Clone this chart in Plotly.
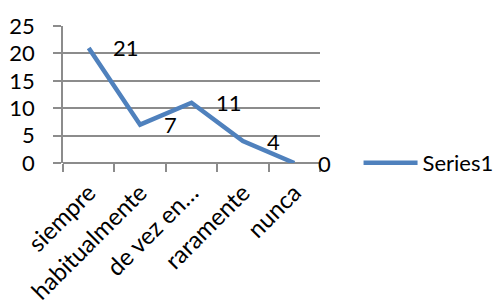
import plotly.graph_objects as go

categories = ["siempre", "habitualmente", "de vez en…", "raramente", "nunca"]
values = [21, 7, 11, 4, 0]
series_name = "Series1"
y_ticks = [0, 5, 10, 15, 20, 25]

FONT = "Lato"
FS = 22
GRID = "#8c8c8c"
BLUE = "#4F81BD"

fig = go.Figure()
fig.add_trace(go.Scatter(
    x=categories, y=values, mode="lines", name=series_name,
    line=dict(color=BLUE, width=4.5), cliponaxis=False,
))

for c, v in zip(categories, values):
    fig.add_annotation(x=c, y=v, text=str(v), showarrow=False,
                       xanchor="left", yanchor="middle", xshift=22,
                       font=dict(family=FONT, size=FS, color="black"))

fig.update_layout(
    width=498, height=306,
    margin=dict(l=63, r=178, t=26, b=143, autoexpand=False),
    paper_bgcolor="white", plot_bgcolor="white",
    font=dict(family=FONT, size=FS, color="black"),
    showlegend=True,
    legend=dict(x=1.15, y=0, xanchor="left", yanchor="middle",
                font=dict(family=FONT, size=FS), itemwidth=54,
                bgcolor="rgba(0,0,0,0)"),
)
fig.update_xaxes(
    type="category", range=[-0.5, 4.5], tickangle=-45, automargin=False,
    showline=False, showgrid=False, zeroline=False,
    ticks="outside", tickson="boundaries", ticklen=8, tickcolor=GRID, tickwidth=1.5,
    ticklabelstandoff=10,
    tickfont=dict(family=FONT, size=24),
)
fig.update_yaxes(
    range=[0, 25], tickvals=y_ticks, automargin=False,
    showline=True, linecolor=GRID, linewidth=1.5,
    showgrid=True, gridcolor=GRID, gridwidth=1.5,
    zeroline=True, zerolinecolor=GRID, zerolinewidth=1.5,
    ticks="outside", ticklen=8, tickcolor=GRID, tickwidth=1.5,
    ticklabelstandoff=14,
    tickfont=dict(family=FONT, size=FS),
)

fig.write_html("out.html", config={"displayModeBar": False},
               post_script="document.body.style.margin='0';")
